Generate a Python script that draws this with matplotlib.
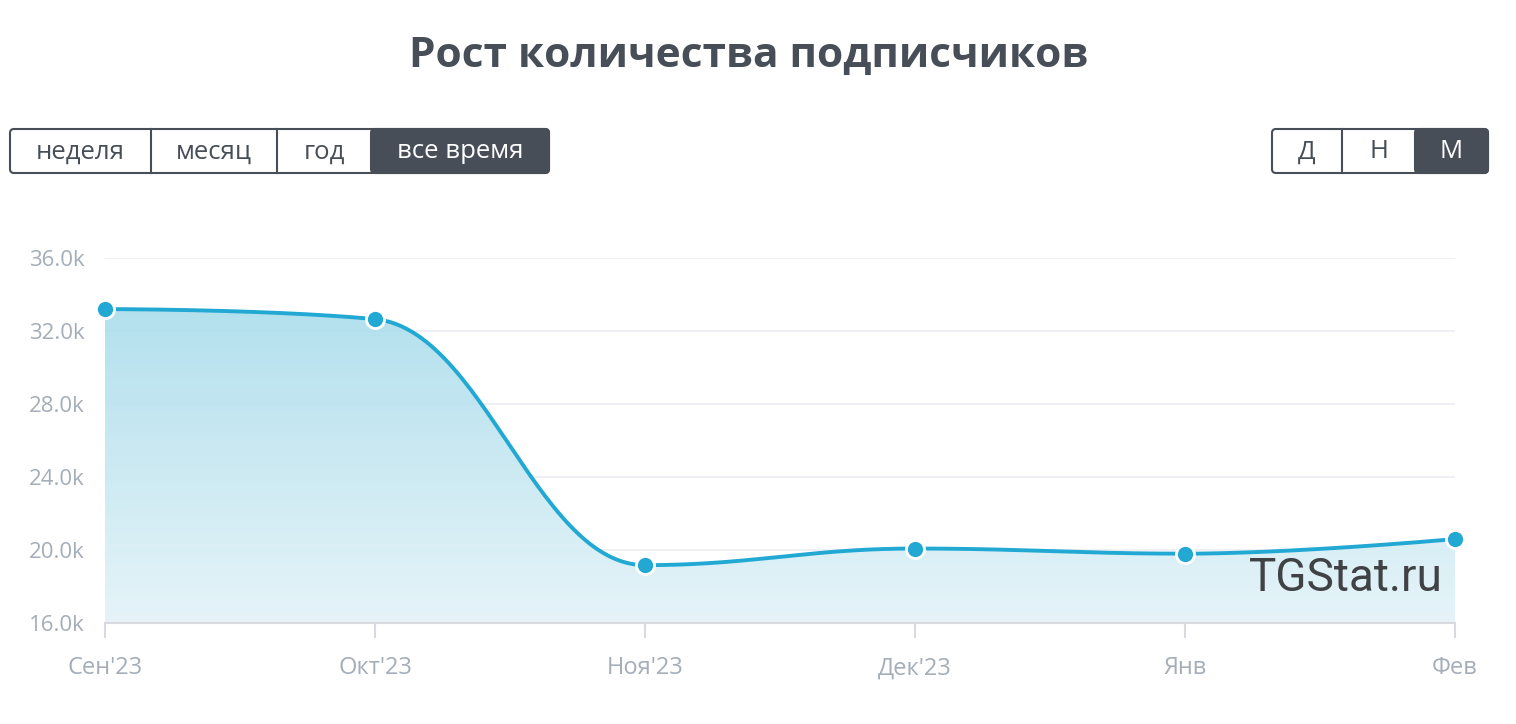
import numpy as np
import matplotlib.pyplot as plt
from matplotlib.patches import FancyBboxPatch, Rectangle, Polygon
from matplotlib.colors import LinearSegmentedColormap

plt.rcParams['font.family'] = ['Open Sans', 'DejaVu Sans']

months = ["Сен'23", "Окт'23", "Ноя'23", "Дек'23", "Янв", "Фев"]
subscribers_k = [33.2, 32.65, 19.17, 20.08, 19.8, 20.6]
y_ticks = [16, 20, 24, 28, 32, 36]
periods = ['неделя', 'месяц', 'год', 'все время']
groupings = ['Д', 'Н', 'М']

line_color = '#22a9d3'
label_color = '#a4adb8'
dark = '#474e58'


def spline_path(xs, ys, smoothing=1.5, n=60):
    # highcharts-like spline: bezier control points from neighbours
    denom = smoothing + 1
    npts = len(xs)
    lc = [(xs[i], ys[i]) for i in range(npts)]
    rc = [(xs[i], ys[i]) for i in range(npts)]
    for i in range(1, npts - 1):
        px, py = xs[i], ys[i]
        lx, ly = xs[i - 1], ys[i - 1]
        nx, ny = xs[i + 1], ys[i + 1]
        lcx = (smoothing * px + lx) / denom
        lcy = (smoothing * py + ly) / denom
        rcx = (smoothing * px + nx) / denom
        rcy = (smoothing * py + ny) / denom
        corr = (rcy - lcy) * (rcx - px) / (rcx - lcx) + py - rcy
        lcy += corr
        rcy += corr
        if lcy > ly and lcy > py:
            lcy = max(ly, py); rcy = 2 * py - lcy
        elif lcy < ly and lcy < py:
            lcy = min(ly, py); rcy = 2 * py - lcy
        if rcy > ny and rcy > py:
            rcy = max(ny, py); lcy = 2 * py - rcy
        elif rcy < ny and rcy < py:
            rcy = min(ny, py); lcy = 2 * py - rcy
        lc[i] = (lcx, lcy)
        rc[i] = (rcx, rcy)
    t = np.linspace(0, 1, n)[:, None]
    segs = []
    for i in range(npts - 1):
        p0 = np.array([xs[i], ys[i]])
        p1 = np.array(rc[i])
        p2 = np.array(lc[i + 1])
        p3 = np.array([xs[i + 1], ys[i + 1]])
        b = ((1 - t) ** 3) * p0 + 3 * ((1 - t) ** 2) * t * p1 + 3 * (1 - t) * t ** 2 * p2 + t ** 3 * p3
        segs.append(b if i == 0 else b[1:])
    pts = np.vstack(segs)
    return pts[:, 0], pts[:, 1]


W, H = 1516, 724
fig = plt.figure(figsize=(W / 100, H / 100), dpi=100)

# overlay in pixel coordinates for title and buttons
ov = fig.add_axes([0, 0, 1, 1], zorder=0)
ov.set_xlim(0, W)
ov.set_ylim(H, 0)
ov.axis('off')

ov.text(749, 56, 'Рост количества подписчиков', ha='center', va='center',
        fontsize=30.5, fontweight='bold', color=dark)


def button_group(x0, x1, dividers, labels, top=129, bottom=173):
    h = bottom - top
    bounds = [x0] + dividers + [x1]
    # selected (last) cell background
    sel = FancyBboxPatch((bounds[-2], top), x1 - bounds[-2], h,
                         boxstyle='round,pad=0,rounding_size=4',
                         fc=dark, ec=dark, lw=1.5)
    ov.add_patch(sel)
    ov.add_patch(Rectangle((bounds[-2], top), 8, h, fc=dark, ec='none'))
    frame = FancyBboxPatch((x0, top), x1 - x0, h,
                           boxstyle='round,pad=0,rounding_size=4',
                           fc='none', ec=dark, lw=1.5)
    ov.add_patch(frame)
    for d in dividers[:-1]:
        ov.plot([d, d], [top, bottom], color=dark, lw=1.5)
    for i, lab in enumerate(labels):
        cx = (bounds[i] + bounds[i + 1]) / 2
        c = 'white' if i == len(labels) - 1 else dark
        ov.text(cx, (top + bottom) / 2 + 1, lab, ha='center', va='center',
                fontsize=18.5, color=c)


button_group(10, 549, [151, 277, 371], periods)
button_group(1272, 1488, [1342, 1415], groupings)

# main plot area
ax = fig.add_axes([105 / W, (H - 623) / H, 1350 / W, 365 / H], zorder=1)
ax.patch.set_alpha(0)
ax.set_axisbelow(True)
x = np.arange(len(months))
sx, sy = spline_path(list(x), subscribers_k)

ax.set_xlim(0, len(months) - 1)
ax.set_ylim(16, 36)

# gradient fill under the curve
cmap = LinearSegmentedColormap.from_list('fill', ['#e4f3f9', '#a4dbea'])
grad = np.linspace(0, 1, 256)[:, None]
im = ax.imshow(grad, cmap=cmap, aspect='auto', origin='lower', alpha=0.93,
               extent=[0, len(months) - 1, 16, 36], zorder=1)
poly = Polygon(np.column_stack([np.r_[sx, sx[-1], sx[0]], np.r_[sy, 16, 16]]),
               closed=True, transform=ax.transData, fc='none', ec='none')
ax.add_patch(poly)
im.set_clip_path(poly)

ax.plot(sx, sy, color=line_color, lw=2.8, zorder=3, solid_capstyle='round')
ax.plot(x, subscribers_k, 'o', ms=13, mfc=line_color, mec='white', mew=2,
        zorder=4, clip_on=False)

ax.set_yticks(y_ticks)
ax.set_yticklabels([f'{v:.1f}k' for v in y_ticks])
ax.set_xticks(x)
ax.set_xticklabels(months)
ax.grid(axis='y', color='#eceef4', lw=1.2)
for s in ['top', 'right', 'left']:
    ax.spines[s].set_visible(False)
ax.spines['bottom'].set_color('#d8dadf')
ax.spines['bottom'].set_linewidth(1.5)
ax.spines['bottom'].set_zorder(2)
ax.tick_params(axis='y', length=0, pad=14.5, labelsize=16, labelcolor=label_color)
ax.tick_params(axis='x', length=11, width=1.5, color='#d8dadf', pad=13,
               labelsize=17, labelcolor=label_color)

ax.text(0.991, 0.123, 'TGStat.ru', transform=ax.transAxes, ha='right', va='center',
        fontsize=33, color='#404246', family=['Roboto', 'DejaVu Sans'],
        zorder=5)

fig.savefig('out.png', dpi=100)
